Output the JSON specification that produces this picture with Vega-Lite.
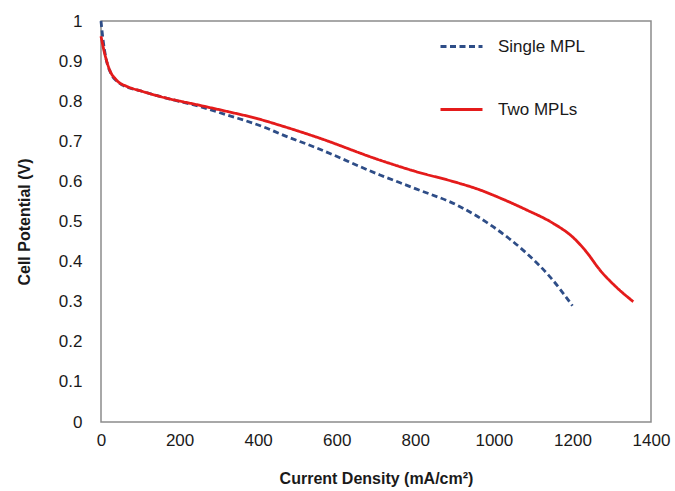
{
  "$schema": "https://vega.github.io/schema/vega-lite/v6.json",
  "width": 550,
  "height": 401,
  "autosize": {"type": "none"},
  "padding": {"left": 101, "top": 21, "right": 24, "bottom": 69},
  "background": "white",
  "config": {
    "font": "Liberation Sans",
    "view": {"stroke": "#8c8c8c", "strokeWidth": 1.5},
    "axis": {"grid": false, "ticks": false, "domain": false, "labelOverlap": false, "labelColor": "#1a1a1a", "titleColor": "#1a1a1a", "labelFont": "Liberation Sans", "titleFont": "Liberation Sans", "labelFontSize": 17, "titleFontSize": 16, "titleFontWeight": "bold"}
  },
  "data": {"values": [
    {"series": "Single MPL", "j": 0, "v": 1.0},
    {"series": "Single MPL", "j": 5, "v": 0.955},
    {"series": "Single MPL", "j": 12, "v": 0.91},
    {"series": "Single MPL", "j": 25, "v": 0.87},
    {"series": "Single MPL", "j": 40, "v": 0.85},
    {"series": "Single MPL", "j": 55, "v": 0.84},
    {"series": "Single MPL", "j": 100, "v": 0.826},
    {"series": "Single MPL", "j": 153, "v": 0.811},
    {"series": "Single MPL", "j": 250, "v": 0.787},
    {"series": "Single MPL", "j": 323, "v": 0.765},
    {"series": "Single MPL", "j": 424, "v": 0.732},
    {"series": "Single MPL", "j": 455, "v": 0.719},
    {"series": "Single MPL", "j": 550, "v": 0.683},
    {"series": "Single MPL", "j": 710, "v": 0.616},
    {"series": "Single MPL", "j": 800, "v": 0.582},
    {"series": "Single MPL", "j": 914, "v": 0.537},
    {"series": "Single MPL", "j": 998, "v": 0.487},
    {"series": "Single MPL", "j": 1083, "v": 0.421},
    {"series": "Single MPL", "j": 1143, "v": 0.362},
    {"series": "Single MPL", "j": 1200, "v": 0.29},
    {"series": "Two MPLs", "j": 0, "v": 0.962},
    {"series": "Two MPLs", "j": 9, "v": 0.92},
    {"series": "Two MPLs", "j": 22, "v": 0.878},
    {"series": "Two MPLs", "j": 39, "v": 0.853},
    {"series": "Two MPLs", "j": 68, "v": 0.836},
    {"series": "Two MPLs", "j": 100, "v": 0.826},
    {"series": "Two MPLs", "j": 153, "v": 0.811},
    {"series": "Two MPLs", "j": 250, "v": 0.79},
    {"series": "Two MPLs", "j": 323, "v": 0.774},
    {"series": "Two MPLs", "j": 400, "v": 0.756},
    {"series": "Two MPLs", "j": 455, "v": 0.74},
    {"series": "Two MPLs", "j": 550, "v": 0.71},
    {"series": "Two MPLs", "j": 710, "v": 0.653},
    {"series": "Two MPLs", "j": 800, "v": 0.625},
    {"series": "Two MPLs", "j": 913, "v": 0.595},
    {"series": "Two MPLs", "j": 964, "v": 0.579},
    {"series": "Two MPLs", "j": 1000, "v": 0.565},
    {"series": "Two MPLs", "j": 1083, "v": 0.529},
    {"series": "Two MPLs", "j": 1150, "v": 0.496},
    {"series": "Two MPLs", "j": 1202, "v": 0.46},
    {"series": "Two MPLs", "j": 1235, "v": 0.425},
    {"series": "Two MPLs", "j": 1270, "v": 0.379},
    {"series": "Two MPLs", "j": 1310, "v": 0.338},
    {"series": "Two MPLs", "j": 1355, "v": 0.3}
  ]},
  "mark": {"type": "line", "interpolate": "monotone", "strokeWidth": 2.8},
  "encoding": {
    "x": {"field": "j", "type": "quantitative", "scale": {"domain": [0, 1400], "nice": false},
      "axis": {"title": "Current Density (mA/cm²)", "values": [0, 200, 400, 600, 800, 1000, 1200, 1400], "format": "d", "labelPadding": 10, "titlePadding": 22, "labelFlush": false}},
    "y": {"field": "v", "type": "quantitative", "scale": {"domain": [0, 1], "nice": false},
      "axis": {"title": "Cell Potential (V)", "values": [0, 0.1, 0.2, 0.3, 0.4, 0.5, 0.6, 0.7, 0.8, 0.9, 1], "format": ".1~f", "labelPadding": 19, "titlePadding": 26, "labelFlush": false}},
    "color": {"field": "series", "type": "nominal",
      "scale": {"domain": ["Single MPL", "Two MPLs"], "range": ["#2e4d87", "#e41b1b"]},
      "legend": {"title": null, "orient": "none", "legendX": 338, "legendY": 3, "symbolType": "stroke", "symbolSize": 1764, "symbolStrokeWidth": 3, "labelFontSize": 17, "labelColor": "#1a1a1a", "labelOffset": 14, "rowPadding": 32}},
    "strokeDash": {"field": "series", "type": "nominal",
      "scale": {"domain": ["Single MPL", "Two MPLs"], "range": [[6, 3.5], [1, 0]]}}
  }
}
